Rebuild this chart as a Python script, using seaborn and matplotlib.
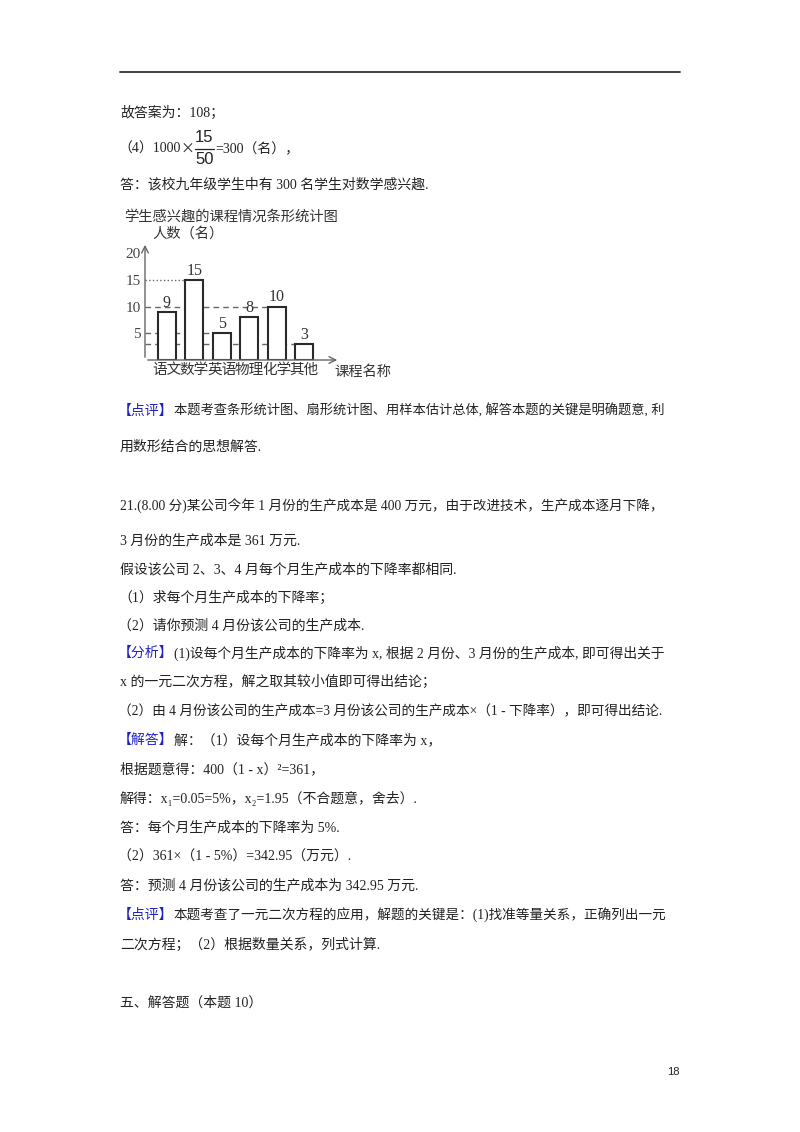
import matplotlib
matplotlib.use("Agg")
import matplotlib.pyplot as plt
import seaborn as sns
import pandas as pd

# ---- data ----
courses = ["语文", "数学", "英语", "物理", "化学", "其他"]
counts = [9, 15, 5, 8, 10, 3]
y_ticks = [5, 10, 15, 20]
guide_values = [15, 10, 5, 3]          # reference lines drawn at these bar heights
chart_title = "学生感兴趣的课程情况条形统计图"
y_label = "人数（名）"
x_label = "课程名称"

sns.set_theme(style="white")
plt.rcParams['font.family'] = ['Liberation Serif', 'Noto Sans CJK SC', 'DejaVu Sans']

W, H = 800, 1132
fig = plt.figure(figsize=(W / 100, H / 100), dpi=100)
fig.patch.set_facecolor("white")

MIX = ['Liberation Serif', 'Noto Sans CJK SC', 'DejaVu Sans']
CJK = ['Noto Sans CJK SC', 'DejaVu Sans']
BLUE = '#2222c4'
TXT = '#222222'
FS = 10.0
RIGHT = 664


def px(x, y):
    return x / W, 1 - y / H


def put(x, y, s, size=FS, color=TXT, family=MIX, ha='left', fit=None, **kw):
    fx, fy = px(x, y)
    t = fig.text(fx, fy, s, fontsize=size, color=color, family=family,
                 ha=ha, va='center', **kw)
    if fit is not None:
        fig.canvas.draw()
        bb = t.get_window_extent()
        if bb.x1 > fit:
            t.set_fontsize(size * (fit - x) / (bb.x1 - x))
    return t


def right_of(t):
    fig.canvas.draw()
    return t.get_window_extent().x1


def put_tagged(x, y, tag, rest, fit=None):
    t = put(x, y, tag, color=BLUE, family=CJK)
    put(right_of(t), y, rest, fit=fit)


# top rule
fig.add_artist(plt.Line2D([120 / W, 680 / W], [1 - 72 / H] * 2, color='#333333', lw=1.3))

# ---- text above chart ----
put(120, 113, "故答案为：108；")
t = put(118, 149, "（4）1000")
tx = put(right_of(t), 149, "×", family=CJK)
fx0 = right_of(tx) + 1
put(fx0 + 9, 137, "15", size=12, family=['Liberation Sans'], ha='center')
put(fx0 + 9, 160, "50", size=12, family=['Liberation Sans'], ha='center')
fig.add_artist(plt.Line2D([fx0 / W, (fx0 + 19) / W], [1 - 149 / H] * 2, color='#222222', lw=0.9))
put(fx0 + 20, 149, "=300（名），")
put(120, 185, "答：该校九年级学生中有 300 名学生对数学感兴趣.")

# ---- bar chart ----
ax = fig.add_axes([145 / W, 1 - 360 / H, 195 / W, 118 / H])
df = pd.DataFrame({"course": courses, "count": counts})
sns.barplot(data=df, x="course", y="count", ax=ax, width=0.67,
            color="white", edgecolor="#2a2a2a", linewidth=1.5, zorder=3)
ax.set_xlim(-0.79, 6.3)
ax.set_ylim(0, 22.1)
for s in ax.spines.values():
    s.set_visible(False)
ax.patch.set_alpha(0)

# guide lines at bar heights
for v in guide_values:
    idx = counts.index(v)
    style = ':' if v == 15 else (0, (4, 3))
    ax.plot([-0.79, idx - 0.335], [v, v], color='#666666', lw=1.0, ls=style, zorder=1)

# value labels
ax.bar_label(ax.containers[0], labels=[str(c) for c in counts], padding=1,
             fontsize=11.5, color='#333333', family=['Liberation Serif'])

# axes with arrows
ax.annotate('', xy=(0, 1.0), xytext=(0, 0), xycoords='axes fraction',
            arrowprops=dict(arrowstyle='->', lw=1.0, color='#666666'))
ax.annotate('', xy=(1.0, 0), xytext=(0, 0), xycoords='axes fraction',
            arrowprops=dict(arrowstyle='->', lw=1.0, color='#666666'))

ax.set_yticks(y_ticks)
ax.set_yticklabels([str(t) for t in y_ticks], family=['Liberation Serif'],
                   fontsize=11, color='#444444')
ax.tick_params(axis='y', length=0, pad=3)
ax.set_xticks(range(len(courses)))
ax.set_xticklabels(courses, family=CJK, fontsize=10.5, color='#333333')
ax.tick_params(axis='x', length=0, pad=2)
ax.set_xlabel("")
ax.set_ylabel("")

put(124, 217, chart_title, size=10.3, color='#333333', family=CJK)
put(152, 234, y_label, size=10.3, color='#333333', family=CJK)
put(334, 372, x_label, size=10.3, color='#333333', family=CJK)

# ---- text below chart ----
put_tagged(118, 411, "【点评】", "本题考查条形统计图、扇形统计图、用样本估计总体, 解答本题的关键是明确题意, 利",
           fit=RIGHT)
put(120, 447, "用数形结合的思想解答.")
put(120, 506, "21.(8.00 分)某公司今年 1 月份的生产成本是 400 万元，由于改进技术，生产成本逐月下降，",
    fit=RIGHT)
put(120, 541, "3 月份的生产成本是 361 万元.")
put(120, 570, "假设该公司 2、3、4 月每个月生产成本的下降率都相同.")
put(118, 598, "（1）求每个月生产成本的下降率；")
put(118, 626, "（2）请你预测 4 月份该公司的生产成本.")
put_tagged(118, 653, "【分析】", "(1)设每个月生产成本的下降率为 x, 根据 2 月份、3 月份的生产成本, 即可得出关于",
           fit=RIGHT)
put(120, 682, "x 的一元二次方程，解之取其较小值即可得出结论；")
put(118, 712, "（2）由 4 月份该公司的生产成本=3 月份该公司的生产成本×（1 - 下降率），即可得出结论.",
    fit=RIGHT)
put_tagged(118, 740, "【解答】", "解：（1）设每个月生产成本的下降率为 x，")
put(120, 769, "根据题意得：400（1 - x）²=361，")
put(120, 798, "解得：x₁=0.05=5%，x₂=1.95（不合题意，舍去）.")
put(120, 828, "答：每个月生产成本的下降率为 5%.")
put(118, 857, "（2）361×（1 - 5%）=342.95（万元）.")
put(120, 886, "答：预测 4 月份该公司的生产成本为 342.95 万元.")
put_tagged(118, 915, "【点评】", "本题考查了一元二次方程的应用，解题的关键是：(1)找准等量关系，正确列出一元",
           fit=RIGHT)
put(120, 945, "二次方程；（2）根据数量关系，列式计算.")
put(120, 1003, "五、解答题（本题 10）")
put(667, 1072, "18", size=8, family=['Liberation Sans'])

fig.savefig("out.png", dpi=100, facecolor="white")
